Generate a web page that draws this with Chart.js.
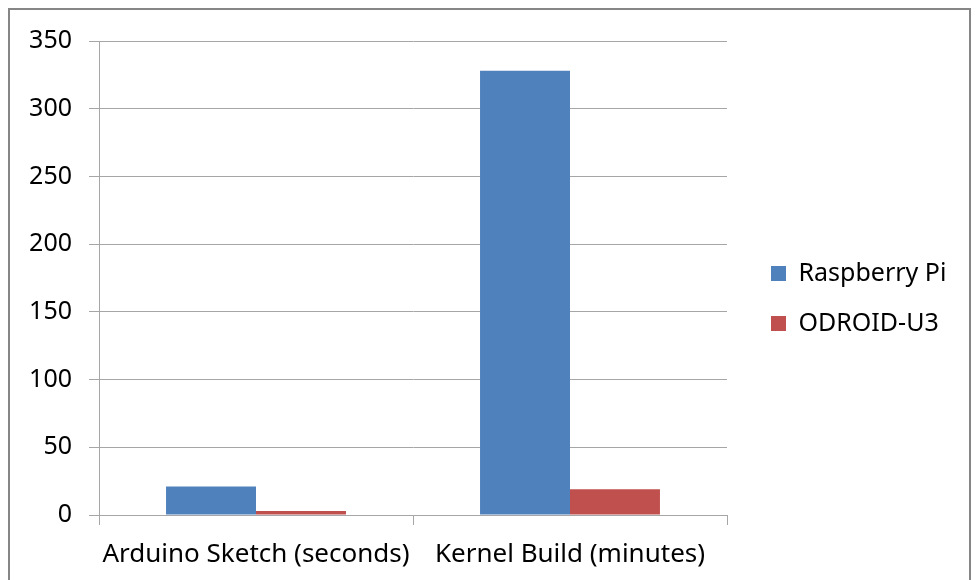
<!DOCTYPE html>
<html>
<head>
<meta charset="utf-8">
<script src="https://cdn.jsdelivr.net/npm/chart.js@4/dist/chart.umd.min.js"></script>
<style>
html,body{margin:0;padding:0;background:#fff;}
#wrap{width:977px;height:580px;position:relative;}
</style>
</head>
<body>
<div id="wrap"><canvas id="c" width="977" height="580"></canvas></div>
<script>
const categories = ["Arduino Sketch (seconds)", "Kernel Build (minutes)"];
const raspberryPi = [21, 328];
const odroidU3 = [3, 19];
const yTicks = [0, 50, 100, 150, 200, 250, 300, 350];

const FONT = {family: "'Noto Sans', 'DejaVu Sans', sans-serif", size: 25};
const XFONT = {family: "'Noto Sans', 'DejaVu Sans', sans-serif", size: 26};
const GRID = '#a6a6a6';

const framePlugin = {
  id: 'frame',
  beforeLayout(chart) {
    const lg = chart.legend;
    if (lg && !lg._patched) {
      const f = lg.fit;
      lg.fit = function () { f.call(this); this.width = 250; };
      lg._patched = true;
    }
  },
  afterLayout(chart) {
    const lg = chart.legend;
    if (lg) {
      lg.left = 746; lg.right = 977;
      lg.top = 236; lg.bottom = 580;
    }
  },
  beforeDraw(chart) {
    const ctx = chart.ctx;
    ctx.save();
    ctx.fillStyle = '#fff';
    ctx.fillRect(0, 0, chart.width, chart.height);
    ctx.strokeStyle = '#868686';
    ctx.lineWidth = 2;
    ctx.strokeRect(9, 9, 961, 620);
    ctx.restore();
  }
};

new Chart(document.getElementById('c'), {
  type: 'bar',
  data: {
    labels: categories,
    datasets: [
      {label: 'Raspberry Pi', data: raspberryPi, backgroundColor: '#4f81bd', borderWidth: 0},
      {label: 'ODROID-U3', data: odroidU3, backgroundColor: '#c0504d', borderWidth: 0}
    ]
  },
  options: {
    responsive: false,
    animation: false,
    devicePixelRatio: 1,
    categoryPercentage: 0.573,
    barPercentage: 1,
    layout: {padding: {top: 41, left: 0, right: 0, bottom: 0}},
    plugins: {
      tooltip: {enabled: false},
      legend: {
        position: 'right',
        align: 'start',
        labels: {
          font: FONT, color: '#000', boxWidth: 15, boxHeight: 15, padding: 25
        }
      }
    },
    scales: {
      x: {
        offset: true,
        grid: {offset: true, drawOnChartArea: false, drawTicks: true, tickLength: 10, color: GRID},
        border: {color: GRID, width: 1},
        ticks: {font: XFONT, color: '#000', padding: 14, maxRotation: 0, autoSkip: false},
        afterFit(s) { s.height = 65; }
      },
      y: {
        min: 0, max: 350,
        afterBuildTicks(s) { s.ticks = yTicks.map(v => ({value: v})); },
        grid: {color: GRID, drawTicks: true, tickLength: 10},
        border: {color: GRID, width: 1},
        ticks: {font: FONT, color: '#000', padding: 17},
        afterFit(s) { s.width = 99; }
      }
    }
  },
  plugins: [framePlugin]
});
</script>
</body>
</html>
